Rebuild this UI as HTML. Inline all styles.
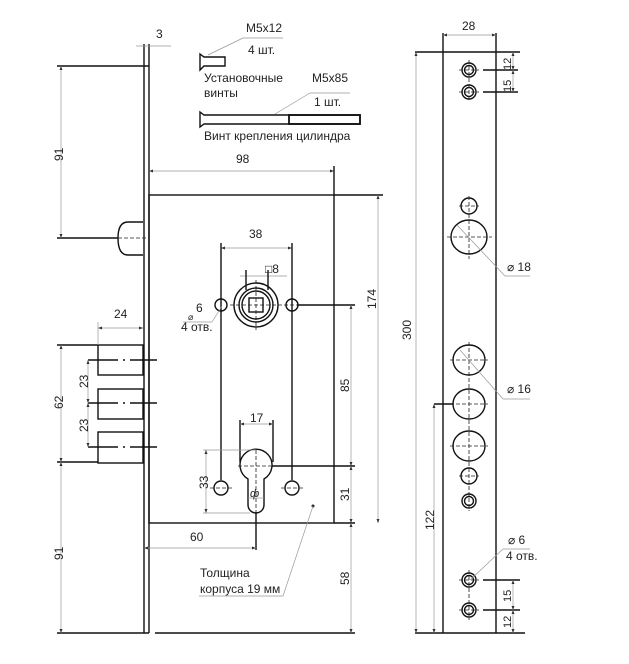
<!DOCTYPE html>
<html><head><meta charset="utf-8"><style>
html,body{margin:0;padding:0;background:#fff;}
svg{display:block;font-family:"Liberation Sans","DejaVu Sans",sans-serif;}
.t{font-size:12px;fill:#222;}
.k{stroke:#111;stroke-width:1.4;fill:none;}
.d{stroke:#999;stroke-width:0.7;fill:none;}
.c{stroke:#222;stroke-width:0.8;fill:none;stroke-dasharray:4 2;}
</style></head><body>
<svg width="629" height="664" viewBox="0 0 629 664" xmlns="http://www.w3.org/2000/svg">
<defs><marker id="a" viewBox="0 0 8 6" refX="8" refY="3" markerWidth="6" markerHeight="5" orient="auto-start-reverse"><path d="M0,0L8,3L0,6z" fill="#333"/></marker></defs>

<text class="t" x="246" y="32">M5x12</text>
<line class="d" x1="243" y1="38" x2="283" y2="38"/>
<line class="d" x1="208" y1="55" x2="243" y2="38"/>
<text class="t" x="248" y="54">4 шт.</text>
<path class="k" d="M200,54 L204,57 L225,57 L225,66 L204,66 L200,70 Z" stroke-width="1.1"/>
<text class="t" x="204" y="82">Установочные</text>
<text class="t" x="204" y="97">винты</text>
<text class="t" x="312" y="82">M5x85</text>
<line class="d" x1="310" y1="93" x2="350" y2="93"/>
<line class="d" x1="275" y1="114" x2="310" y2="93"/>
<text class="t" x="314" y="106">1 шт.</text>
<path class="k" d="M200,112 L204,115 L360,115 L360,124 L204,124 L200,127 Z" stroke-width="1.1"/>
<rect x="289" y="115" width="71" height="9" fill="none" stroke="#111" stroke-width="1.8"/>
<text class="t" x="204" y="140">Винт крепления цилиндра</text>

<line class="k" x1="144" y1="44" x2="144" y2="633"/>
<line class="k" x1="149" y1="44" x2="149" y2="633"/>
<line class="k" x1="57" y1="66" x2="149" y2="66"/>
<line class="k" x1="57" y1="633" x2="149" y2="633"/>
<line class="k" x1="155" y1="633" x2="355" y2="633"/>
<line class="d" x1="136" y1="46" x2="171" y2="46"/>
<text class="t" x="156" y="38">3</text>
<rect class="k" x="149" y="195" width="185" height="328"/>
<path class="k" d="M143,222 L128,222 Q118,222 118,238 Q118,255 128,255 L143,255"/>
<line class="k" x1="57" y1="238" x2="118" y2="238"/>
<line class="c" x1="118" y1="238" x2="146" y2="238"/>
<line class="d" x1="61" y1="66" x2="61" y2="238" marker-start="url(#a)" marker-end="url(#a)"/>
<text class="t" transform="translate(63,161) rotate(-90)">91</text>
<line class="d" x1="149" y1="171" x2="334" y2="171" marker-start="url(#a)" marker-end="url(#a)"/>
<line class="k" x1="334" y1="166" x2="334" y2="195" stroke-width="0.9"/>
<text class="t" x="236" y="163">98</text>
<line class="k" x1="334" y1="195" x2="383" y2="195" stroke-width="0.9"/>
<line class="d" x1="378" y1="195" x2="378" y2="523" marker-start="url(#a)" marker-end="url(#a)"/>
<text class="t" transform="translate(376,309) rotate(-90)">174</text>
<line class="d" x1="221" y1="248" x2="292" y2="248" marker-start="url(#a)" marker-end="url(#a)"/>
<text class="t" x="249" y="238">38</text>
<line class="k" x1="221" y1="243" x2="221" y2="480" stroke-width="0.9"/>
<line class="k" x1="292" y1="243" x2="292" y2="480" stroke-width="0.9"/>
<line class="d" x1="240" y1="276" x2="287" y2="276"/>
<line class="k" x1="246" y1="270" x2="246" y2="290" stroke-width="0.9"/>
<line class="k" x1="268" y1="270" x2="268" y2="290" stroke-width="0.9"/>
<text class="t" x="265" y="273">□8</text>
<circle class="k" cx="256" cy="305" r="22"/>
<circle class="k" cx="256" cy="305" r="17"/>
<circle class="k" cx="256" cy="305" r="14" stroke-width="0.9"/>
<rect class="k" x="249" y="298" width="14" height="14" stroke-width="1"/>
<line class="c" x1="230" y1="305" x2="300" y2="305"/>
<line class="c" x1="256" y1="280" x2="256" y2="330"/>
<circle class="k" cx="221" cy="305" r="6"/>
<circle class="k" cx="292" cy="305" r="6"/>
<line class="k" x1="298" y1="305" x2="355" y2="305" stroke-width="0.9"/>
<text class="t" x="196" y="312">6</text>
<text class="t" x="188" y="320" style="font-size:9px">⌀</text>
<text class="t" x="181" y="331">4 отв.</text>
<line class="d" x1="183" y1="322" x2="212" y2="322"/>
<line class="d" x1="212" y1="322" x2="222" y2="306"/>
<line class="d" x1="351" y1="305" x2="351" y2="466" marker-start="url(#a)" marker-end="url(#a)"/>
<text class="t" transform="translate(349,392) rotate(-90)">85</text>
<rect class="k" x="98" y="345" width="45" height="30"/>
<rect class="k" x="98" y="389" width="45" height="30"/>
<rect class="k" x="98" y="432" width="45" height="31"/>
<line class="k" x1="57" y1="345" x2="98" y2="345"/>
<line class="k" x1="57" y1="462" x2="98" y2="462"/>
<line class="k" x1="88" y1="360" x2="157" y2="360" stroke-dasharray="30 5 2 5"/>
<line class="k" x1="88" y1="403" x2="157" y2="403" stroke-dasharray="30 5 2 5"/>
<line class="k" x1="88" y1="447" x2="157" y2="447" stroke-dasharray="30 5 2 5"/>
<line class="d" x1="88" y1="360" x2="88" y2="403" marker-start="url(#a)" marker-end="url(#a)"/>
<line class="d" x1="88" y1="403" x2="88" y2="447" marker-start="url(#a)" marker-end="url(#a)"/>
<text class="t" transform="translate(88,388) rotate(-90)">23</text>
<text class="t" transform="translate(88,432) rotate(-90)">23</text>
<line class="d" x1="61" y1="345" x2="61" y2="462" marker-start="url(#a)" marker-end="url(#a)"/>
<text class="t" transform="translate(63,409) rotate(-90)">62</text>
<line class="d" x1="61" y1="462" x2="61" y2="633" marker-start="url(#a)" marker-end="url(#a)"/>
<text class="t" transform="translate(63,560) rotate(-90)">91</text>
<line class="d" x1="98" y1="328" x2="143" y2="328" marker-start="url(#a)" marker-end="url(#a)"/>
<line class="d" x1="98" y1="322" x2="98" y2="345"/>
<text class="t" x="114" y="318">24</text>
<path class="k" d="M248,479 A16,16 0 1,1 264,479 L264,505 A8,8 0 0,1 248,505 Z"/>
<line class="c" x1="238" y1="466" x2="274" y2="466"/>
<line class="c" x1="256" y1="450" x2="256" y2="512"/>
<line class="k" x1="272" y1="466" x2="355" y2="466" stroke-width="0.9"/>
<line class="k" x1="240" y1="420" x2="240" y2="462" stroke-width="0.9"/>
<line class="k" x1="273" y1="420" x2="273" y2="462" stroke-width="0.9"/>
<line class="d" x1="240" y1="424" x2="273" y2="424" marker-start="url(#a)" marker-end="url(#a)"/>
<text class="t" x="250" y="422">17</text>
<line class="d" x1="203" y1="450" x2="256" y2="450"/>
<line class="d" x1="203" y1="513" x2="250" y2="513"/>
<line class="d" x1="206" y1="450" x2="206" y2="513" marker-start="url(#a)" marker-end="url(#a)"/>
<text class="t" transform="translate(208,489) rotate(-90)">33</text>
<circle class="k" cx="221" cy="488" r="7"/>
<circle class="k" cx="292" cy="488" r="7"/>
<line class="c" x1="210" y1="488" x2="232" y2="488"/>
<line class="c" x1="281" y1="488" x2="303" y2="488"/>
<line class="d" x1="248" y1="498" x2="264" y2="498"/>
<text class="t" x="250" y="497" style="font-size:11px;font-style:italic">ф</text>
<line class="k" x1="256" y1="512" x2="256" y2="550" stroke-width="0.9"/>
<line class="d" x1="144" y1="548" x2="256" y2="548" marker-start="url(#a)" marker-end="url(#a)"/>
<text class="t" x="190" y="541">60</text>
<line class="d" x1="351" y1="466" x2="351" y2="523" marker-start="url(#a)" marker-end="url(#a)"/>
<text class="t" transform="translate(349,501) rotate(-90)">31</text>
<line class="k" x1="334" y1="523" x2="355" y2="523" stroke-width="0.9"/>
<line class="d" x1="351" y1="523" x2="351" y2="633" marker-start="url(#a)" marker-end="url(#a)"/>
<text class="t" transform="translate(349,585) rotate(-90)">58</text>
<circle cx="313" cy="506" r="1.5" fill="#222"/>
<polyline class="d" points="313,506 283,596 199,596"/>
<text class="t" x="200" y="577">Толщина</text>
<text class="t" x="200" y="593">корпуса 19 мм</text>

<line class="k" x1="443" y1="33" x2="443" y2="633"/>
<line class="k" x1="496" y1="33" x2="496" y2="633"/>
<line class="k" x1="415" y1="52" x2="520" y2="52"/>
<line class="k" x1="415" y1="633" x2="525" y2="633"/>
<line class="d" x1="443" y1="35" x2="496" y2="35" marker-start="url(#a)" marker-end="url(#a)"/>
<text class="t" x="462" y="30">28</text>
<line class="d" x1="416" y1="52" x2="416" y2="633" marker-start="url(#a)" marker-end="url(#a)"/>
<text class="t" transform="translate(411,340) rotate(-90)">300</text>
<g class="k" stroke-width="1">
<circle cx="469" cy="70" r="7"/><circle cx="469" cy="70" r="4.5"/>
<circle cx="469" cy="92" r="7"/><circle cx="469" cy="92" r="4.5"/>
<circle cx="469" cy="501" r="7"/><circle cx="469" cy="501" r="4.5"/>
<circle cx="469" cy="580" r="7"/><circle cx="469" cy="580" r="4.5"/>
<circle cx="469" cy="610" r="7"/><circle cx="469" cy="610" r="4.5"/>
<circle cx="469" cy="206" r="8"/>
<ellipse cx="469" cy="237" rx="18" ry="17"/>
<ellipse cx="469" cy="360" rx="16" ry="15"/>
<ellipse cx="469" cy="404" rx="16" ry="15"/>
<ellipse cx="469" cy="446" rx="16" ry="15"/>
<circle cx="469" cy="476" r="8"/>
</g>
<g class="c" stroke-dasharray="3 2">
<line x1="469" y1="60" x2="469" y2="102"/><line x1="459" y1="70" x2="479" y2="70"/><line x1="459" y1="92" x2="479" y2="92"/>
<line x1="469" y1="196" x2="469" y2="259"/><line x1="447" y1="237" x2="492" y2="237"/><line x1="459" y1="206" x2="479" y2="206"/>
<line x1="469" y1="342" x2="469" y2="511"/><line x1="450" y1="360" x2="488" y2="360"/><line x1="450" y1="404" x2="488" y2="404"/><line x1="450" y1="446" x2="488" y2="446"/><line x1="459" y1="476" x2="479" y2="476"/>
<line x1="469" y1="570" x2="469" y2="620"/><line x1="459" y1="580" x2="479" y2="580"/><line x1="459" y1="610" x2="479" y2="610"/>
</g>
<line class="k" x1="483" y1="70" x2="518" y2="70" stroke-width="1"/>
<line class="k" x1="483" y1="92" x2="518" y2="92" stroke-width="1"/>
<line class="d" x1="513" y1="52" x2="513" y2="70" marker-start="url(#a)" marker-end="url(#a)"/>
<line class="d" x1="513" y1="70" x2="513" y2="92" marker-start="url(#a)" marker-end="url(#a)"/>
<text class="t" transform="translate(511,70) rotate(-90)" style="font-size:11px">12</text>
<text class="t" transform="translate(511,92) rotate(-90)" style="font-size:11px">15</text>
<line class="d" x1="457" y1="225" x2="505" y2="276"/><line class="d" x1="505" y1="276" x2="530" y2="276"/>
<text class="t" x="507" y="271">⌀ 18</text>
<line class="d" x1="460" y1="350" x2="503" y2="399"/><line class="d" x1="503" y1="399" x2="530" y2="399"/>
<text class="t" x="507" y="393">⌀ 16</text>
<line class="k" x1="434" y1="404" x2="453" y2="404" stroke-width="1"/>
<line class="d" x1="434" y1="404" x2="434" y2="633" marker-start="url(#a)" marker-end="url(#a)"/>
<text class="t" transform="translate(434,530) rotate(-90)">122</text>
<text class="t" x="508" y="544">⌀ 6</text>
<text class="t" x="506" y="560">4 отв.</text>
<line class="d" x1="470" y1="580" x2="503" y2="549"/><line class="d" x1="503" y1="549" x2="530" y2="549"/>
<line class="k" x1="483" y1="580" x2="520" y2="580" stroke-width="1"/>
<line class="k" x1="483" y1="610" x2="520" y2="610" stroke-width="1"/>
<line class="d" x1="513" y1="580" x2="513" y2="610" marker-start="url(#a)" marker-end="url(#a)"/>
<line class="d" x1="513" y1="610" x2="513" y2="633" marker-start="url(#a)" marker-end="url(#a)"/>
<text class="t" transform="translate(511,602) rotate(-90)" style="font-size:11px">15</text>
<text class="t" transform="translate(511,628) rotate(-90)" style="font-size:11px">12</text>
</svg>
</body></html>
